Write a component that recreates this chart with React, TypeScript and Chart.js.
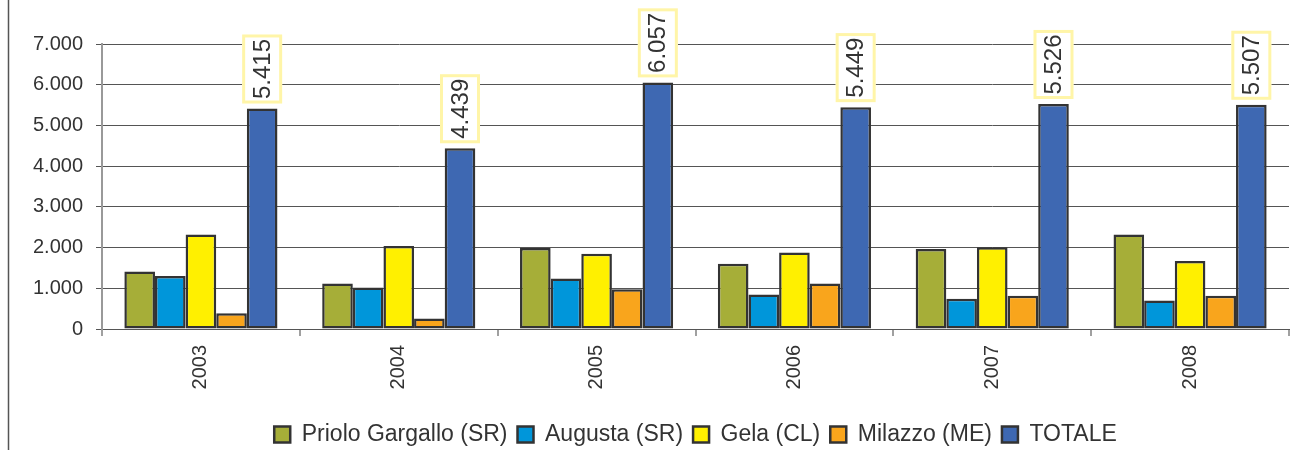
import React, { useEffect, useRef } from "react";
import { Chart, registerables } from "chart.js";

Chart.register(...registerables);

const years = ["2003", "2004", "2005", "2006", "2007", "2008"];
const priolo = [1410, 1120, 1990, 1600, 1965, 2320];
const augusta = [1300, 1020, 1240, 850, 740, 700];
const gela = [2320, 2040, 1850, 1880, 2005, 1670];
const milazzo = [385, 259, 977, 1119, 816, 817];
const totale = [5415, 4439, 6057, 5449, 5526, 5507];
const seriesNames = ["Priolo Gargallo (SR)", "Augusta (SR)", "Gela (CL)", "Milazzo (ME)", "TOTALE"];
const seriesColors = ["#A6AE38", "#0096DA", "#FFF000", "#F9A51C", "#3E68B2"];
const yTicks = [0, 1000, 2000, 3000, 4000, 5000, 6000, 7000];

const FONT = "'Liberation Sans', Arial, sans-serif";
const TEXT = "#333333";

const fmt = (v: number) => String(Math.round(v)).replace(/\B(?=(\d{3})+(?!\d))/g, ".");

const frameAndLabels = {
  id: "frameAndLabels",
  beforeDraw(chart: any) {
    const ctx = chart.ctx;
    ctx.save();
    ctx.strokeStyle = "#555555";
    ctx.lineWidth = 1.5;
    ctx.beginPath();
    ctx.moveTo(8.5, 0);
    ctx.lineTo(8.5, chart.height);
    ctx.stroke();
    ctx.restore();
  },
  afterDatasetsDraw(chart: any) {
    const ctx = chart.ctx;
    const meta = chart.getDatasetMeta(4);
    const ds = chart.data.datasets[4];
    ctx.save();
    ctx.font = `24px ${FONT}`;
    meta.data.forEach((bar: any, i: number) => {
      const text = fmt(ds.data[i]);
      const tw = ctx.measureText(text).width;
      const boxW = 40;
      const boxH = tw + 9;
      const bottom = bar.y - 5;
      const top = bottom - boxH;
      ctx.fillStyle = "#ffffff";
      ctx.fillRect(bar.x - boxW / 2, top, boxW, boxH);
      ctx.strokeStyle = "#FFF5A8";
      ctx.lineWidth = 3;
      ctx.strokeRect(bar.x - boxW / 2 + 1.5, top + 1.5, boxW - 3, boxH - 3);
      ctx.save();
      ctx.translate(bar.x + 1, top + boxH / 2);
      ctx.rotate(-Math.PI / 2);
      ctx.fillStyle = TEXT;
      ctx.textAlign = "center";
      ctx.textBaseline = "middle";
      ctx.fillText(text, 0, 0);
      ctx.restore();
    });
    ctx.restore();
  },
};

export default function App() {
  const ref = useRef<HTMLCanvasElement | null>(null);
  useEffect(() => {
    if (!ref.current) return;
    const all = [priolo, augusta, gela, milazzo, totale];
    const chart = new Chart(ref.current, {
      type: "bar",
      data: {
        labels: years,
        datasets: all.map((d, i) => ({
          label: seriesNames[i],
          data: d,
          backgroundColor: seriesColors[i],
          borderColor: "#333333",
          borderWidth: 2.5,
          borderSkipped: false,
          categoryPercentage: 0.774,
          barPercentage: 1,
        })),
      },
      options: {
        animation: false,
        responsive: false,
        maintainAspectRatio: false,
        layout: { padding: { top: 44, right: 9, left: 0, bottom: 0 } },
        plugins: {
          tooltip: { enabled: false },
          legend: {
            position: "bottom",
            fullSize: false,
            maxHeight: 37,
            labels: {
              boxWidth: 16,
              boxHeight: 16,
              padding: 10,
              color: TEXT,
              font: { family: FONT, size: 23 },
            },
          },
        },
        scales: {
          x: {
            afterFit: (s: any) => {
              s.height = 84;
            },
            grid: {
              display: true,
              drawOnChartArea: false,
              drawTicks: true,
              tickLength: 7,
              color: "#A0A0A0",
              lineWidth: 2,
              offset: true,
            },
            border: { display: true, color: "#555555", width: 1 },
            ticks: {
              color: TEXT,
              font: { family: FONT, size: 20 },
              minRotation: 90,
              maxRotation: 90,
              padding: 9,
            },
          },
          y: {
            min: 0,
            max: 7000,
            afterFit: (s: any) => {
              s.width = 102;
            },
            afterBuildTicks: (s: any) => {
              s.ticks = yTicks.map((v) => ({ value: v }));
            },
            grid: {
              color: "#555555",
              lineWidth: 1,
              tickLength: 6,
            },
            border: { display: true, color: "#999999", width: 2 },
            ticks: {
              color: TEXT,
              font: { family: FONT, size: 20 },
              padding: 13,
              callback: (v: any) => fmt(Number(v)),
            },
          },
        },
      },
      plugins: [frameAndLabels],
    } as any);
    return () => chart.destroy();
  }, []);
  return (
    <div style={{ position: "fixed", left: 0, top: 0, width: 1298, height: 450, background: "#fff" }}>
      <canvas ref={ref} width={1298} height={450} style={{ width: 1298, height: 450, display: "block" }} />
    </div>
  );
}
